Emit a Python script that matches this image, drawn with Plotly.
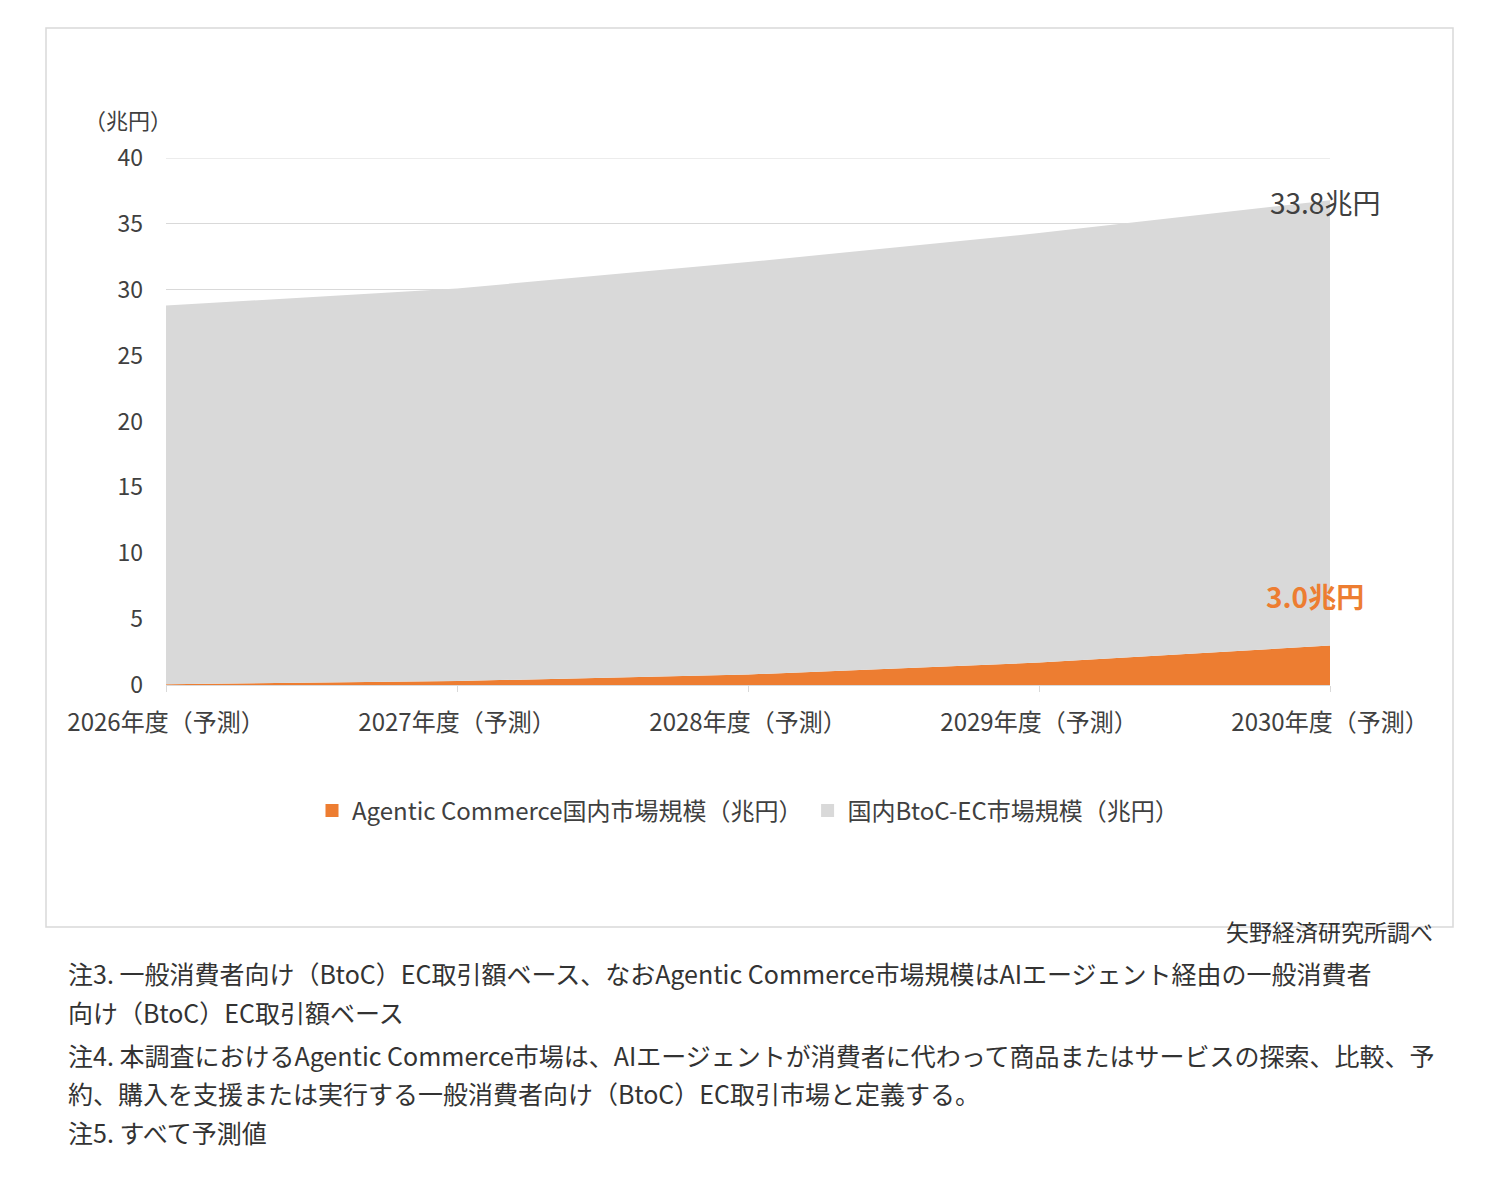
import plotly.graph_objects as go

years = ["2026年度（予測）", "2027年度（予測）", "2028年度（予測）", "2029年度（予測）", "2030年度（予測）"]
agentic = [0.05, 0.3, 0.8, 1.7, 3.0]
btoc = [28.75, 29.8, 31.3, 32.6, 33.8]
yticks = [0, 5, 10, 15, 20, 25, 30, 35, 40]
notes = [
    "注3. 一般消費者向け（BtoC）EC取引額ベース、なおAgentic Commerce市場規模はAIエージェント経由の一般消費者",
    "向け（BtoC）EC取引額ベース",
    "注4. 本調査におけるAgentic Commerce市場は、AIエージェントが消費者に代わって商品またはサービスの探索、比較、予",
    "約、購入を支援または実行する一般消費者向け（BtoC）EC取引市場と定義する。",
    "注5. すべて予測値",
]
note_y = [993, 1032, 1075, 1113, 1152]

FONT = "Noto Sans CJK JP, Noto Sans, sans-serif"
OFF = 8
L, R, T, B = 166 - OFF, 1330 - OFF, 158 - OFF, 685 - OFF
W, H = R - L, B - T
px = lambda x: (x - OFF - L) / W
py = lambda y: (B - (y - OFF)) / H

ORANGE, GREY = "#ED7D31", "#D9D9D9"
fig = go.Figure()
fig.add_trace(go.Scatter(x=years, y=agentic, stackgroup="a", mode="none",
                         fillcolor=ORANGE, showlegend=False))
fig.add_trace(go.Scatter(x=years, y=btoc, stackgroup="a", mode="none",
                         fillcolor=GREY, showlegend=False))
fig.add_trace(go.Scatter(x=[None], y=[None], mode="markers", name="Agentic Commerce国内市場規模（兆円）",
                         marker=dict(symbol="square", size=13, color=ORANGE)))
fig.add_trace(go.Scatter(x=[None], y=[None], mode="markers", name="国内BtoC-EC市場規模（兆円）",
                         marker=dict(symbol="square", size=13, color=GREY)))

ann = [
    dict(x=px(1325), y=py(180), text="33.8兆円", showarrow=False, xanchor="center",
         font=dict(size=28, color="#404040")),
    dict(x=px(1315), y=py(618), text="<b>3.0兆円</b>", showarrow=False, xanchor="center",
         font=dict(size=28, color=ORANGE)),
    dict(x=px(82), y=py(101), text="（兆円）", showarrow=False, xanchor="left",
         font=dict(size=22, color="#404040")),
    dict(x=px(1435), y=py(950), text="矢野経済研究所調べ", showarrow=False, xanchor="right",
         font=dict(size=23, color="#333")),
]
for t, y in zip(notes, note_y):
    ann.append(dict(x=px(66), y=py(y), text=t, showarrow=False, xanchor="left",
                    font=dict(size=25, color="#333")))
for a in ann:
    a.update(xref="paper", yref="paper")

fig.update_layout(
    width=1496, height=1200, margin=dict(l=L, r=1496 - R, t=T, b=1200 - B),
    paper_bgcolor="white", plot_bgcolor="white",
    font=dict(family=FONT, size=22, color="#404040"),
    showlegend=True,
    legend=dict(orientation="h", x=0.5, xanchor="center", y=py(811), yanchor="middle",
                font=dict(size=24, color="#404040"), traceorder="normal", itemwidth=30),
    annotations=ann,
    shapes=[dict(type="rect", xref="paper", yref="paper", x0=px(46), x1=px(1453),
                 y0=py(927), y1=py(28), line=dict(color=GREY, width=1.5)),
            dict(type="line", xref="paper", yref="y", x0=0, x1=1, y0=40, y1=40,
                 line=dict(color=GREY, width=1))],
    xaxis=dict(showline=True, linecolor=GREY, ticks="outside", tickcolor=GREY,
               ticklen=6, showgrid=False, range=[0, 4], tickfont=dict(size=24),
               ticklabelstandoff=10),
    yaxis=dict(range=[0, 40], tickvals=yticks, gridcolor=GREY, showline=False,
               zeroline=False, tickfont=dict(size=23), ticklabelstandoff=22),
)
fig.write_html("out.html")
